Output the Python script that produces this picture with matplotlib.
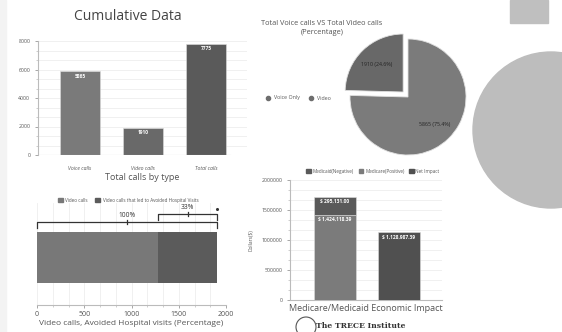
import matplotlib
matplotlib.use('Agg')
import matplotlib.pyplot as plt
from matplotlib.patches import Rectangle, Ellipse
from matplotlib.lines import Line2D
from matplotlib.ticker import AutoMinorLocator

# --- data ---
call_types = ['Voice calls', 'Video calls', 'Total calls']
call_counts = [5865, 1910, 7775]

pie_labels = ['Video', 'Voice Only']
pie_counts = [1910, 5865]

video_calls = 1910
avoided_share = 0.33
hbar_labels = ['Video calls', 'Video calls that led to Avoided Hospital Visits']

impact_cats = ['Medicare/Medicaid', 'Net']
medicare_positive = [1424118.39, 0]
medicaid_negative = [295131.00, 0]
net_impact = [0, 1128987.39]

W, H = 562, 332
TXT = '#555555'
plt.rcParams['font.family'] = ['Open Sans', 'DejaVu Sans']


def box(x0, y0, x1, y1):
    # pixel box (top-left origin) -> figure fraction
    return [x0 / W, 1 - y1 / H, (x1 - x0) / W, (y1 - y0) / H]


fig = plt.figure(figsize=(W / 100, H / 100), dpi=100)
fig.patch.set_facecolor('white')

# background decorations
fig.patches.append(Rectangle((0, 0), 6 / W, 1, transform=fig.transFigure,
                             color='#f3f3f3', zorder=0))
fig.patches.append(Rectangle((510 / W, 1 - 23 / H), 38 / W, 23 / H,
                             transform=fig.transFigure, color='#bfbfbf', zorder=0))
fig.patches.append(Ellipse((551 / W, 1 - 130 / H), 156 / W, 156 / H,
                           transform=fig.transFigure, color='#bdbdbd', zorder=0))


def style_axis(ax):
    for s in ['top', 'right']:
        ax.spines[s].set_visible(False)
    for s in ['left', 'bottom']:
        ax.spines[s].set_color('#bbbbbb')
        ax.spines[s].set_linewidth(0.8)
    ax.tick_params(labelsize=3.7, colors='#999999', labelcolor=TXT, length=2, width=0.6)
    ax.tick_params(which='minor', length=1.2, width=0.5, colors='#bbbbbb')


# --- top left: calls by type ---
fig.text(128 / W, 1 - 16 / H, 'Cumulative Data', ha='center', va='center',
         fontsize=10, color='#444444')
ax1 = fig.add_axes(box(38, 41, 247, 155))
x = range(len(call_types))
bars = ax1.bar(x, call_counts, width=0.63, color=['#7a7a7a', '#696969', '#5a5a5a'],
               edgecolor='#dddddd', linewidth=0.4, zorder=3)
for b, v in zip(bars, call_counts):
    ax1.text(b.get_x() + b.get_width() / 2, v - 150, str(v), ha='center', va='top',
             fontsize=3.5, color='white', fontweight='bold', zorder=4)
ax1.set_xlim(-0.667, 2.65)
ax1.set_ylim(0, 8000)
ax1.set_yticks(range(0, 8001, 2000))
ax1.yaxis.set_minor_locator(AutoMinorLocator(3))
ax1.grid(axis='y', which='both', color='#eeeeee', linewidth=0.6, zorder=0)
ax1.set_xticks(list(x))
ax1.set_xticklabels(call_types, fontstyle='italic')
style_axis(ax1)
ax1.tick_params(axis='x', length=0, pad=8)
ax1.spines['bottom'].set_visible(False)
ax1.axhline(0, color='#bbbbbb', linewidth=0.8, xmax=0.92, zorder=3)
ax1.set_ylabel('Number of calls', fontsize=3.5, color=TXT, labelpad=10)
ax1.set_xlabel('Total calls by type', fontsize=6.5, color=TXT, labelpad=1)

# --- top right: pie ---
fig.text(322 / W, 1 - 28 / H, 'Total Voice calls VS Total Video calls\n(Percentage)',
         ha='center', va='center', fontsize=5.3, color=TXT, linespacing=1.3)
r = 58
ax2 = fig.add_axes(box(408 - 80, 97 - 80, 408 + 80, 97 + 80))
total = sum(pie_counts)
wedges, _, autotexts = ax2.pie(
    pie_counts, startangle=90, colors=['#686868', '#7b7b7b'], explode=[0.12, 0],
    autopct=lambda p: '{:d} ({:.1f}%)'.format(int(round(p * total / 100)), p),
    pctdistance=0.66, wedgeprops=dict(edgecolor='#e0e0e0', linewidth=0.6),
    textprops=dict(fontsize=3.8, color='#222222'))
ax2.set_xlim(-80 / r, 80 / r)
ax2.set_ylim(-80 / r, 80 / r)
ax2.set_aspect('auto')
ax2.axis('off')
pie_handles = [Line2D([], [], marker='o', linestyle='', color='#6e6e6e', markersize=3)
               for _ in pie_labels]
fig.legend(pie_handles, ['Voice Only', 'Video'], loc='center left',
           bbox_to_anchor=(258 / W, 1 - 98 / H), ncol=2, frameon=False,
           fontsize=3.8, handletextpad=0.2, columnspacing=1.0, labelcolor=TXT)

# --- bottom left: horizontal stacked bar ---
ax3 = fig.add_axes(box(37, 203, 226, 305))
avoided = video_calls * avoided_share
base = video_calls - avoided
ax3.barh([47.5], [base], height=51, color='#787878', zorder=3)
ax3.barh([47.5], [avoided], left=[base], height=51, color='#5b5b5b', zorder=3)
ax3.set_xlim(0, 2000)
ax3.set_ylim(0, 102)
ax3.set_xticks(range(0, 2001, 500))
ax3.xaxis.set_minor_locator(AutoMinorLocator(3))
ax3.grid(axis='x', which='both', color='#eeeeee', linewidth=0.6, zorder=0)
ax3.set_yticks([])
style_axis(ax3)
ax3.spines['left'].set_visible(False)
ax3.tick_params(axis='x', labelsize=5, pad=2)


def bracket(ax, x0, x1, y, label):
    ax.plot([x0, x0, x1, x1], [y - 6, y, y, y - 6], color='#333333', linewidth=0.9,
            zorder=5, clip_on=False)
    mid = (x0 + x1) / 2
    ax.plot([mid, mid], [y - 2, y + 2.5], color='#333333', linewidth=0.9, zorder=5,
            clip_on=False)
    ax.text(mid, y + 3, label, ha='center', va='bottom', fontsize=4.8, color='#333333',
            clip_on=False)


bracket(ax3, 0, video_calls, 83, '100%')
bracket(ax3, base, video_calls, 91, '{:.0f}%'.format(avoided_share * 100))
ax3.plot([video_calls], [96], marker='o', markersize=1.2, color='#333333', clip_on=False)
ax3.set_xlabel('Video calls, Avoided Hospital visits (Percentage)', fontsize=6,
               color=TXT, labelpad=2)
sq = [Rectangle((0, 0), 1, 1, color=c) for c in ['#787878', '#5b5b5b']]
fig.legend(sq, hbar_labels, loc='center', bbox_to_anchor=(128 / W, 1 - 200 / H),
           ncol=2, frameon=False, fontsize=3.3, handlelength=1.2, handleheight=1.2,
           handletextpad=0.5, columnspacing=1.5, labelcolor=TXT)

# --- bottom right: economic impact ---
ax4 = fig.add_axes(box(290, 180, 442, 300))
xi = range(len(impact_cats))
ax4.bar(xi, medicare_positive, width=0.656, color='#7b7b7b', zorder=3,
        edgecolor='#dddddd', linewidth=0.4)
ax4.bar(xi, medicaid_negative, bottom=medicare_positive, width=0.656,
        color='#5a5a5a', zorder=3, edgecolor='#dddddd', linewidth=0.4)
ax4.bar(xi, net_impact, width=0.656, color='#505050', zorder=3,
        edgecolor='#dddddd', linewidth=0.4)
ax4.text(0, medicare_positive[0] + medicaid_negative[0] - 40000,
         '$ {:,.2f}'.format(medicaid_negative[0]), ha='center', va='top',
         fontsize=3.5, color='white', fontweight='bold', zorder=4)
ax4.text(0, medicare_positive[0] - 40000, '$ {:,.2f}'.format(medicare_positive[0]),
         ha='center', va='top', fontsize=3.5, color='white', fontweight='bold', zorder=4)
ax4.text(1, net_impact[1] - 40000, '$ {:,.2f}'.format(net_impact[1]),
         ha='center', va='top', fontsize=3.5, color='white', fontweight='bold', zorder=4)
ax4.set_xlim(-0.703, 1.672)
ax4.set_ylim(0, 2000000)
ax4.set_yticks(range(0, 2000001, 500000))
ax4.set_yticklabels(['0', '500000', '1000000', '1500000', '2000000'])
ax4.yaxis.set_minor_locator(AutoMinorLocator(3))
ax4.grid(axis='y', which='both', color='#eeeeee', linewidth=0.6, zorder=0)
ax4.set_xticks([])
style_axis(ax4)
ax4.set_ylabel('Dollars($)', fontsize=3.5, color=TXT, labelpad=6)
ax4.set_xlabel('Medicare/Medicaid Economic Impact', fontsize=6.5, color=TXT, labelpad=3)
sq2 = [Rectangle((0, 0), 1, 1, color=c) for c in ['#5a5a5a', '#7b7b7b', '#505050']]
fig.legend(sq2, ['Medicaid(Negative)', 'Medicare(Positive)', 'Net Impact'],
           loc='center', bbox_to_anchor=(373 / W, 1 - 171 / H), ncol=3, frameon=False,
           fontsize=3.3, handlelength=1.0, handleheight=1.0, handletextpad=0.4,
           columnspacing=1.0, labelcolor=TXT)

# logo at the bottom
fig.patches.append(Ellipse((306 / W, 1 - 327 / H), 20 / W, 20 / H,
                           transform=fig.transFigure, facecolor='white',
                           edgecolor='#555555', linewidth=0.8, zorder=5))
fig.text(316 / W, 1 - 326 / H, 'The TRECE Institute', ha='left', va='center',
         fontsize=5.5, family='DejaVu Serif', fontweight='bold', color='#333333', zorder=6)

fig.savefig('out.png', dpi=100)
